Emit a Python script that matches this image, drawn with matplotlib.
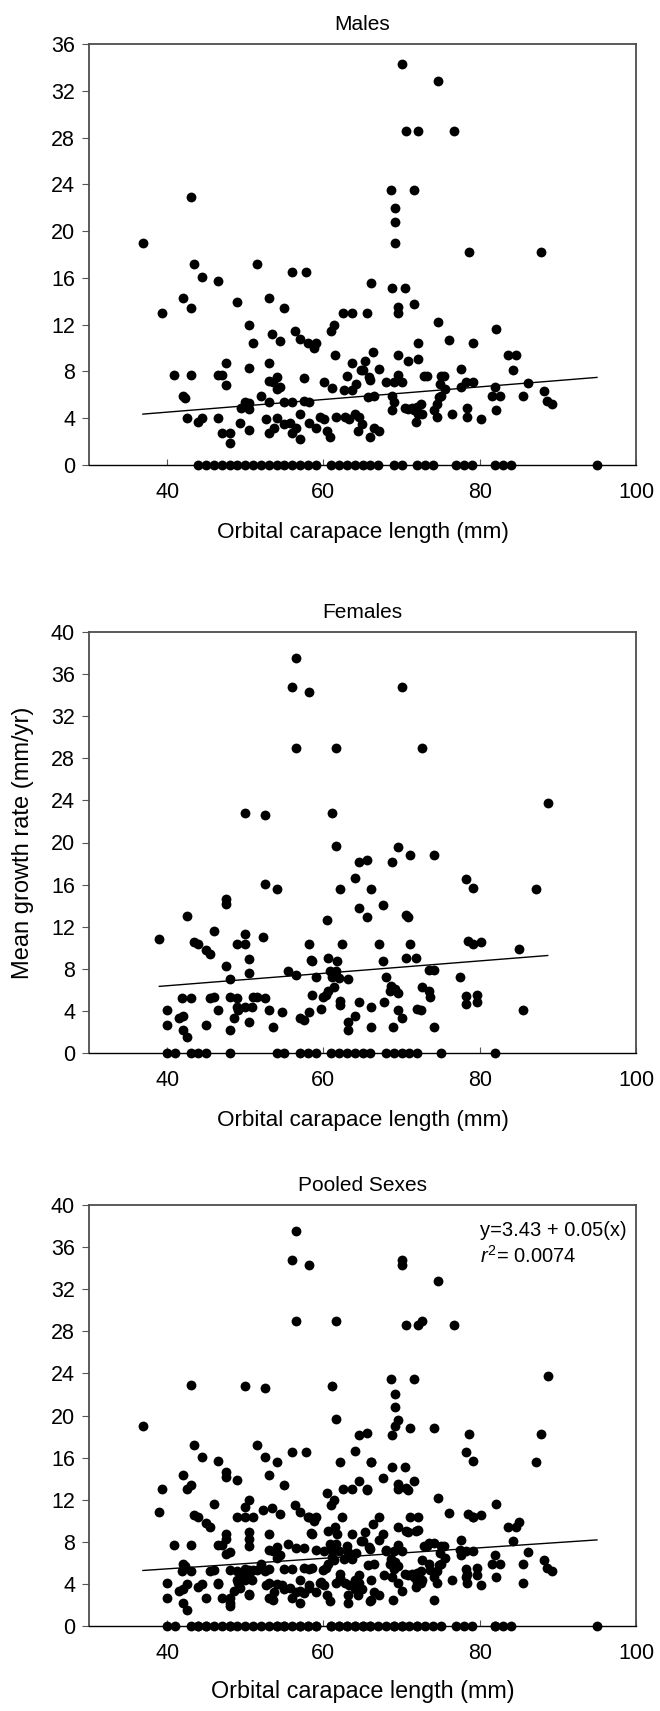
import matplotlib
matplotlib.use('Agg')
import numpy as np
import matplotlib.pyplot as plt

plt.rcParams['font.family'] = ['Liberation Sans', 'DejaVu Sans']
plt.rcParams['mathtext.fontset'] = 'custom'
plt.rcParams['mathtext.rm'] = 'Liberation Sans'
plt.rcParams['mathtext.it'] = 'Liberation Sans:italic'

# males, growth > 0  (orbital carapace length mm, growth mm/yr)
male_x = [36.9, 43.0, 43.4, 44.5, 46.5, 39.4, 42.0, 43.0, 49.0, 51.5, 53.0, 55.0, 56.0, 57.8,
          50.5, 51.0, 53.4, 54.5, 56.3, 57.0, 58.0, 58.8, 59.1, 61.0, 61.4, 61.5, 62.5, 63.6,
          63.7, 63.0, 40.9, 43.0, 42.0, 42.3, 42.5, 44.0, 44.5, 46.5, 46.5, 47.0, 47.5, 47.5,
          47.0, 48.0, 48.0, 49.3, 49.5, 50.0, 50.5, 50.5, 50.5, 50.5, 52.0, 53.0, 53.0, 53.0,
          53.6, 54.1, 54.1, 54.5, 52.7, 53.0, 53.7, 54.1, 55.0, 55.0, 55.7, 56.0, 56.0, 56.5,
          57.0, 57.0, 57.5, 57.5, 58.1, 58.1, 59.1, 59.5, 60.1, 60.1, 60.4, 60.8, 61.1, 61.6,
          62.6, 62.7, 63.3, 63.7, 64.0, 64.2, 64.4, 64.8,
          70.1, 74.6, 70.6, 72.1, 76.7, 68.6, 71.6, 69.1, 69.1, 69.1, 78.6, 87.8, 66.1, 68.8,
          70.4, 69.6, 69.5, 71.6, 65.6, 74.6, 82.1, 72.1, 76.1, 79.2, 66.3, 69.6, 72.1, 70.8,
          83.6, 84.6, 84.2, 65.3, 65.0, 67.1, 65.8, 66.0, 68.0, 69.0, 69.6, 70.1, 72.9, 73.2,
          75.1, 75.4, 77.6, 74.9, 75.5, 77.6, 78.2, 79.2, 81.9, 86.2, 88.2, 88.6, 89.2, 85.5,
          81.6, 82.6, 82.1, 65.7, 66.5, 68.8, 69.0, 68.8, 70.5, 70.8, 71.3, 71.6, 72.0, 72.5,
          72.1, 71.9, 72.6, 74.2, 74.5, 74.8, 75.1, 74.5, 76.4, 78.4, 78.4, 80.2, 64.6, 64.9,
          66.0, 66.5, 67.1]
male_y = [19.0, 22.9, 17.2, 16.1, 15.7, 13.0, 14.3, 13.4, 13.9, 17.2, 14.3, 13.4, 16.5, 16.5,
          12.0, 10.4, 11.2, 10.6, 11.5, 10.8, 10.4, 10.0, 10.4, 11.5, 12.0, 9.4, 13.0, 13.0,
          8.7, 7.6, 7.7, 7.7, 5.9, 5.7, 4.0, 3.7, 4.0, 4.0, 7.7, 7.7, 8.7, 6.8,
          2.7, 2.7, 1.9, 3.6, 4.9, 5.4, 5.3, 4.8, 8.3, 3.0, 5.9, 8.7, 7.2, 5.4,
          7.1, 7.5, 6.5, 6.7, 3.9, 2.7, 3.2, 4.0, 5.4, 3.5, 3.6, 5.4, 2.7, 3.2,
          4.4, 2.2, 7.4, 5.5, 5.4, 3.6, 3.2, 4.1, 3.9, 7.1, 2.9, 2.4, 6.6, 4.1,
          6.4, 4.1, 3.9, 6.4, 4.4, 6.9, 2.9, 8.1,
          34.3, 32.8, 28.6, 28.6, 28.6, 23.5, 23.5, 22.0, 20.8, 19.0, 18.2, 18.2, 15.6, 15.1,
          15.1, 13.5, 13.0, 13.8, 13.0, 12.2, 11.6, 10.4, 10.7, 10.4, 9.7, 9.4, 9.1, 8.9,
          9.4, 9.4, 8.1, 8.9, 8.1, 8.2, 7.5, 7.3, 7.1, 7.1, 7.7, 7.1, 7.6, 7.6,
          7.6, 7.6, 8.2, 6.9, 6.5, 6.7, 7.1, 7.1, 6.7, 7.0, 6.3, 5.5, 5.2, 5.9,
          5.9, 5.9, 4.7, 5.8, 5.9, 5.9, 5.4, 4.7, 4.9, 4.8, 4.9, 4.7, 5.0, 5.2,
          4.4, 3.7, 4.4, 4.7, 5.2, 5.8, 5.9, 4.1, 4.4, 4.9, 4.1, 3.9, 4.1, 3.5,
          2.4, 3.2, 2.9]
male_zero_x = [44, 45, 46, 47, 48, 49, 50, 51, 52, 53, 54, 55, 56, 57, 58, 59, 61, 62, 63, 64,
               65, 66, 67, 69, 70, 72, 73, 74, 77, 78, 79, 82, 83, 84, 95]

# females, growth > 0
female_x = [39.0, 40.0, 40.0, 42.5, 41.5, 42.0, 41.9, 43.0, 42.0, 42.6, 43.4, 44.0, 45.0, 45.5,
            46.0, 45.5, 46.0, 45.0, 46.5, 47.5, 47.5, 47.5, 48.0, 48.0, 48.0, 48.6, 49.0, 49.0,
            49.1, 49.0, 50.0, 50.0, 50.0, 50.5, 50.5, 50.0, 50.8, 50.5, 51.0, 51.5, 52.5, 52.5,
            52.3, 52.5, 53.0, 53.5, 54.0, 54.7, 55.5, 56.0, 56.5, 56.5, 56.5, 58.1, 58.1, 57.0,
            57.5, 58.1, 58.4, 58.6, 58.6, 59.0, 59.7, 60.0, 60.3, 60.6, 60.5, 60.6, 60.8, 61.1,
            61.1, 61.6, 61.6, 61.8, 61.6, 61.4, 62.1, 62.1, 62.1, 62.4, 62.0, 63.1, 63.1, 63.1,
            64.1, 64.5, 64.5, 64.5, 64.1,
            70.1, 72.6, 88.7, 69.6, 71.1, 74.2, 68.8, 65.6, 66.1, 78.2, 79.2, 87.2, 67.6, 65.6,
            70.6, 70.8, 67.1, 71.1, 78.5, 79.2, 80.2, 85.0, 70.6, 71.8, 67.6, 73.5, 74.2, 68.0,
            77.5, 68.7, 69.1, 69.6, 68.5, 72.6, 73.5, 73.7, 78.2, 78.2, 79.7, 79.7, 67.8, 66.1,
            69.5, 72.0, 72.5, 85.5, 70.1, 66.1, 68.9, 74.2]
female_y = [10.8, 4.1, 2.7, 13.0, 3.3, 3.5, 5.2, 5.2, 2.2, 1.5, 10.5, 10.4, 9.8, 9.4,
            11.6, 5.2, 5.3, 2.7, 4.1, 14.6, 14.2, 8.3, 7.0, 5.3, 2.2, 3.3, 5.2, 4.4,
            4.1, 10.4, 22.8, 11.3, 10.4, 8.9, 7.6, 4.4, 4.4, 2.9, 5.3, 5.3, 22.6, 16.1,
            11.0, 5.2, 4.1, 2.5, 15.6, 3.9, 7.8, 34.8, 37.5, 29.0, 7.4, 34.3, 10.4, 3.3,
            3.1, 3.9, 8.8, 8.7, 5.5, 7.2, 4.2, 5.3, 5.5, 5.9, 12.6, 9.0, 7.8, 7.2,
            22.8, 29.0, 19.7, 8.7, 7.8, 6.3, 15.6, 4.9, 4.6, 10.4, 7.1, 7.0, 2.9, 2.2,
            16.6, 18.1, 13.8, 4.8, 3.5,
            34.8, 29.0, 23.8, 19.6, 18.8, 18.8, 18.1, 18.3, 15.6, 16.5, 15.7, 15.6, 14.1, 12.9,
            13.1, 12.9, 10.4, 10.4, 10.6, 10.4, 10.5, 9.9, 9.0, 9.0, 8.7, 7.9, 7.9, 7.2,
            7.2, 6.4, 6.1, 5.7, 5.9, 6.3, 5.9, 5.3, 5.4, 4.7, 5.5, 4.8, 4.8, 4.4,
            4.1, 4.2, 4.1, 4.1, 3.3, 2.5, 2.5, 2.5]
female_zero_x = [40, 41, 43, 44, 45, 48, 54, 55, 57, 58, 59, 61, 62, 63, 64, 65, 66, 68, 69, 70,
                 71, 72, 75, 82]

# regression lines (intercept, slope)
male_fit = (2.36, 0.054)
female_fit = (4.03, 0.059)
pooled_fit = (3.43, 0.05)

mx = male_x + male_zero_x
my = male_y + [0] * len(male_zero_x)
fx = female_x + female_zero_x
fy = female_y + [0] * len(female_zero_x)
px = mx + fx
py = my + fy

W, H = 660, 1711
fig = plt.figure(figsize=(W / 100, H / 100), dpi=100)


def panel(top_px, xs, ys, fit, title, ymax):
    ax = fig.add_axes([89 / W, 1 - (top_px + 421) / H, 547 / W, 421 / H])
    ax.scatter(xs, ys, s=50, c='black', linewidths=0, zorder=3, clip_on=False)
    xx = np.array([min(xs), max(xs)])
    ax.plot(xx, fit[0] + fit[1] * xx, color='black', lw=1, zorder=2)
    ax.set_xlim(30, 100)
    ax.set_ylim(0, ymax)
    ax.set_xticks([40, 60, 80, 100])
    ax.set_yticks(np.arange(0, ymax + 1, 4))
    ax.tick_params(axis='x', direction='in', length=4, pad=12, labelsize=15.5, color='#555555')
    ax.tick_params(axis='y', direction='out', length=5, pad=5, labelsize=15.5, color='#555555')
    for s in ['top', 'left', 'right']:
        ax.spines[s].set_color('#4d4d4d')
        ax.spines[s].set_linewidth(1.3)
    ax.spines['bottom'].set_color('black')
    ax.spines['bottom'].set_linewidth(1)
    ax.set_title(title, fontsize=15, pad=10)
    return ax


ax1 = panel(44, mx, my, male_fit, 'Males', 36)
ax1.set_xlabel('Orbital carapace length (mm)', fontsize=16.2, labelpad=14)

ax2 = panel(632, fx, fy, female_fit, 'Females', 40)
ax2.set_xlabel('Orbital carapace length (mm)', fontsize=16.2, labelpad=14)
ax2.set_ylabel('Mean growth rate (mm/yr)', fontsize=17, labelpad=12)

ax3 = panel(1205, px, py, pooled_fit, 'Pooled Sexes', 40)
ax3.set_xlabel('Orbital carapace length (mm)', fontsize=16.8, labelpad=12)
ax3.text(0.715, 0.962, 'y=3.43 + 0.05(x)', transform=ax3.transAxes, va='top', fontsize=14.5)
ax3.text(0.715, 0.905, r'$r^2$= 0.0074', transform=ax3.transAxes, va='top', fontsize=14.5)

fig.savefig('out.png', dpi=100)
